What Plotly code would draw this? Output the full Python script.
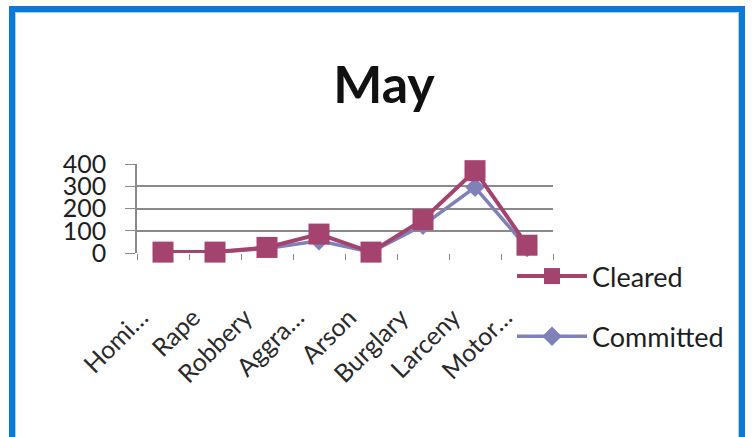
import plotly.graph_objects as go

# data
crimes = ["Homicide", "Rape", "Robbery", "Aggravated Assault", "Arson",
          "Burglary", "Larceny", "Motor Vehicle Theft"]
tick_text = ["Homi…", "Rape", "Robbery", "Aggra…", "Arson",
             "Burglary", "Larceny", "Motor…"]
committed = [4, 4, 20, 55, 4, 125, 295, 25]
cleared = [4, 4, 25, 85, 4, 150, 370, 35]
y_ticks = [0, 100, 200, 300, 400]

CLEARED_COLOR = "#A5436F"
COMMITTED_COLOR = "#7F82B9"
FONT = "Lato"

# plot area in pixels (used to place the frame around the whole picture)
PX_L, PX_R, PX_T, PX_B = 137, 553, 164, 253


def px_x(p):
    return (p - PX_L) / (PX_R - PX_L)


def px_y(p):
    return (PX_B - p) / (PX_B - PX_T)


fig = go.Figure()
fig.add_trace(
    go.Scatter(
        x=crimes, y=committed, name="Committed", mode="lines+markers",
        line=dict(color=COMMITTED_COLOR, width=3.5),
        marker=dict(symbol="diamond", size=15, color=COMMITTED_COLOR),
        legendgroup="a", legendrank=2, cliponaxis=False,
    )
)
fig.add_trace(
    go.Scatter(
        x=crimes, y=cleared, name="Cleared", mode="lines+markers",
        line=dict(color=CLEARED_COLOR, width=4),
        marker=dict(symbol="square", size=21, color=CLEARED_COLOR),
        legendgroup="b", legendrank=1, cliponaxis=False,
    )
)

# blue frame like the screenshot
fig.add_shape(
    type="rect", xref="paper", yref="paper",
    x0=px_x(12), x1=px_x(742), y0=px_y(442), y1=px_y(9),
    line=dict(color="#0A7AD6", width=6), layer="below",
)
fig.add_shape(
    type="rect", xref="paper", yref="paper",
    x0=px_x(15.5), x1=px_x(738.5), y0=px_y(440), y1=px_y(12.5),
    line=dict(color="#A9D1F3", width=1), layer="below",
)

fig.update_layout(
    width=756, height=437,
    margin=dict(l=PX_L, r=756 - PX_R, t=PX_T, b=437 - PX_B),
    paper_bgcolor="white", plot_bgcolor="white",
    font=dict(family=FONT, color="#1e1e1e", size=24),
    title=dict(text="<b>May</b>", x=384 / 756, xref="container", xanchor="center",
               y=1 - 85 / 437, yanchor="middle",
               font=dict(size=52, color="#111111", family=FONT)),
    legend=dict(
        x=px_x(512), y=px_y(252), xanchor="left", yanchor="top",
        traceorder="grouped", tracegroupgap=22, maxheight=400,
        font=dict(size=27), itemwidth=70, bgcolor="rgba(0,0,0,0)",
    ),
    showlegend=True,
)
fig.update_xaxes(
    type="category", categoryorder="array", categoryarray=crimes,
    tickvals=crimes, ticktext=tick_text, tickangle=-45,
    range=[-0.5, len(crimes) - 0.5], tickson="boundaries",
    ticks="outside", ticklen=6, tickcolor="#8a8a8a",
    showline=False, showgrid=False, zeroline=False,
    ticklabelshift=-22, ticklabelstandoff=44,
    tickfont=dict(size=25, color="#2a2a2a"),
)
fig.update_yaxes(
    range=[0, 400], tickvals=y_ticks,
    ticks="outside", ticklen=10, tickcolor="#8a8a8a",
    showline=True, linecolor="#8a8a8a", linewidth=1.5,
    showgrid=True, gridcolor="#8a8a8a", gridwidth=1.5,
    zeroline=False, ticklabelstandoff=14,
    tickfont=dict(size=25, color="#1e1e1e"),
)

fig.write_html("out.html", config={"displayModeBar": False},
               post_script="document.body.style.margin='0';")
